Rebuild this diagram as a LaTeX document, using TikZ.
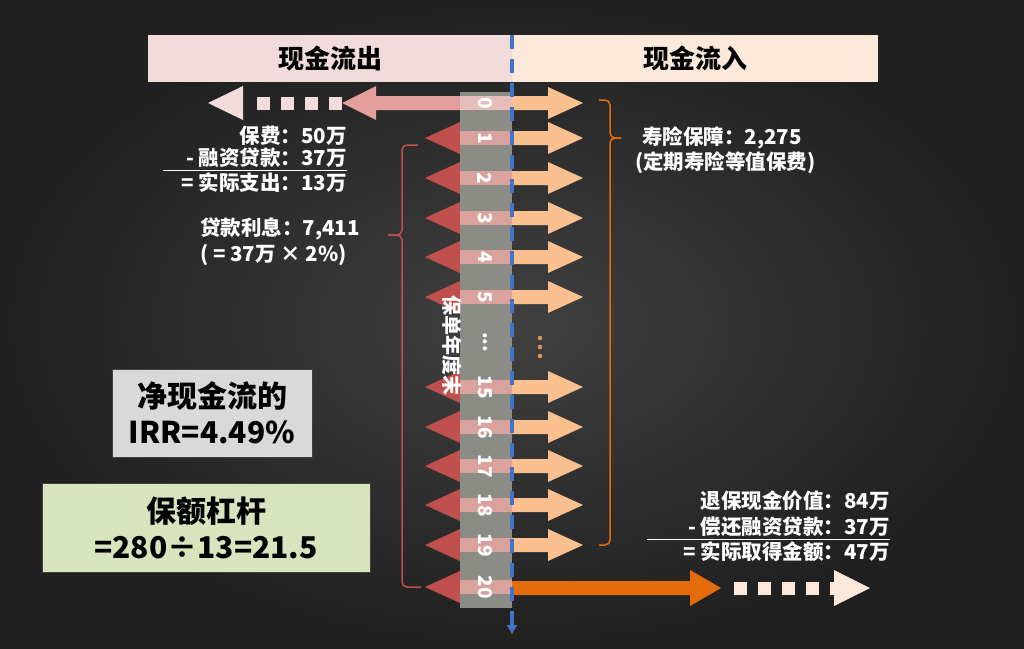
\documentclass[tikz,border=0pt]{standalone}
\usepackage{fontspec}
\setmainfont{Noto Sans CJK SC}
\usepackage{xcolor}
\usetikzlibrary{arrows.meta, positioning}
\definecolor{bgdark}{HTML}{202020}
\definecolor{bgmid}{HTML}{404040}
\definecolor{outpink}{HTML}{F2DCDB}
\definecolor{inpeach}{HTML}{FDE9D9}
\definecolor{lossred}{HTML}{C0504D}
\definecolor{shaftpink}{HTML}{E29F9C}
\definecolor{strippink}{HTML}{D9A29D}
\definecolor{stripzero}{HTML}{E6BDB8}
\definecolor{gainpeach}{HTML}{FAC090}
\definecolor{cashorange}{HTML}{E46C0A}
\definecolor{dotorange}{HTML}{D9955A}
\definecolor{axisblue}{HTML}{4472C4}
\definecolor{bandgray}{HTML}{8A8C85}
\definecolor{irrgray}{HTML}{D9D9D9}
\definecolor{levgreen}{HTML}{D7E4BD}

\tikzset{
  lbl/.style={text=white, font=\bfseries\fontsize{20.5}{22}\selectfont, inner sep=0pt},
  headbox/.style={font=\bfseries\fontsize{26}{30}\selectfont, text=black, inner sep=0pt, minimum height=47pt},
  resbox/.style={draw=black!75, line width=1pt, text=black, align=center, inner sep=0pt,
    font=\bfseries\fontsize{30}{36}\selectfont},
  yearno/.style={text=white, font=\bfseries\fontsize{19}{22}\selectfont, rotate=-90, inner sep=0pt},
  brk/.style={line width=1.5pt, rounded corners=5pt},
  rule/.style={white, line width=1pt},
}

\begin{document}
\begin{tikzpicture}[x=1pt, y=-1pt]
  \useasboundingbox (0,0) rectangle (1024,648);
  \shade[inner color=bgmid, outer color=bgdark] (0,0) rectangle (1024,648);

  % header
  \node[headbox, fill=outpink, minimum width=364pt] (outhd) at (330,58.5) {现金流出};
  \node[headbox, fill=inpeach, minimum width=366pt] (inhd) at (695,58.5) {现金流入};

  % year 0: premium paid out
  \fill[shaftpink] (512,96) -- (376,96) -- (376,86) -- (342,103) -- (376,120) -- (376,110) -- (512,110) -- cycle;
  \foreach \sx in {257,281,305,329}
    \fill[outpink] (\sx,97) rectangle ++(13,13);
  \fill[outpink] (243,86) -- (208,103) -- (243,120) -- cycle;

  % yearly interest out
  \foreach \yy in {138,178,218,257,297,387,427,466,505,545,587}
    \fill[lossred] (460,\yy-16) -- (425,\yy) -- (460,\yy+16) -- cycle;

  % yearly cover in
  \foreach \yy in {103,138,178,218,257,297,387,427,466,505,545}
    \fill[gainpeach] (512,\yy-7) -- (548,\yy-7) -- (548,\yy-16) -- (583,\yy)
      -- (548,\yy+16) -- (548,\yy+7) -- (512,\yy+7) -- cycle;
  \foreach \dy in {338,347,356}
    \fill[dotorange] (540,\dy) circle (2.3pt);

  % year 20: surrender value in
  \fill[cashorange] (512,581) -- (690,581) -- (690,570) -- (721,588) -- (690,606) -- (690,595) -- (512,595) -- cycle;
  \foreach \sx in {734,758,782,806}
    \fill[inpeach] (\sx,582) rectangle ++(13,13);
  \fill[inpeach] (830,582) rectangle (835,595);
  \fill[inpeach] (834,570) -- (870,588) -- (834,606) -- cycle;

  % policy year band
  \fill[bandgray] (460,92) rectangle (512,608);
  \fill[stripzero] (460,96) rectangle (512,110);
  \foreach \yy in {138,178,218,257,297,387,427,466,505,545,587}
    \fill[strippink] (460,\yy-7) rectangle (512,\yy+7);
  \foreach \yr/\yy in {0/103,1/138,2/178,3/218,4/257,5/297,15/387,16/427,17/466,18/505,19/545,20/587}
    \node[yearno] (yr\yr) at (485,\yy) {\yr};
  \node[yearno] (yrdots) at (485,342) {...};
  \node[yearno, font=\bfseries\fontsize{20}{22}\selectfont] (band) at (452,345) {保单年度末};

  % time axis
  \coordinate (axtop) at (512,35);
  \coordinate (axbot) at (512,634);
  \draw[axisblue, line width=3.5pt, dash pattern=on 14pt off 10pt,
    -{Triangle[width=10pt,length=9pt]}] (axtop) -- (axbot);

  % brackets
  \draw[brk, lossred] (418,145) -| (402,235) -- (388,235);
  \draw[brk, lossred] (388,235) -- (402,235) |- (421,587);
  \draw[brk, cashorange] (599,100) -| (610,138) -- (621,138);
  \draw[brk, cashorange] (621,138) -- (610,138) |- (599,545);

  % left labels
  \node[lbl, anchor=east] (fee) at (347,136) {保费：50万};
  \node[lbl, anchor=east] (loan) at (347,158) {- 融资贷款：37万};
  \draw[rule] (loan.south east) ++(0,2) -- ++(-184,0);
  \node[lbl, anchor=east] (paid) at (347,183) {= 实际支出：13万};
  \node[lbl, anchor=west] (interest) at (200,229) {贷款利息：7,411};
  \node[lbl, anchor=west] (rate) at (200,255) {( = 37万 × 2\%)};

  % right labels
  \node[lbl, anchor=west] (cover) at (642,138) {寿险保障：2,275};
  \node[lbl, anchor=west] (coverx) at (635,163) {(定期寿险等值保费)};
  \node[lbl, anchor=east] (surr) at (890,501) {退保现金价值：84万};
  \node[lbl, anchor=east] (repay) at (890,527) {- 偿还融资贷款：37万};
  \draw[rule] (repay.south east) ++(0,2) -- ++(-243,0);
  \node[lbl, anchor=east] (net) at (890,552) {= 实际取得金额：47万};

  % results
  \node[resbox, fill=irrgray, minimum width=200pt, minimum height=88pt] (irr) at (212,413) {净现金流的\\IRR=4.49\%};
  \node[resbox, fill=levgreen, minimum width=328pt, minimum height=89pt] (lev) at (206,527.5) {保额杠杆\\=280÷13=21.5};
\end{tikzpicture}
\end{document}
